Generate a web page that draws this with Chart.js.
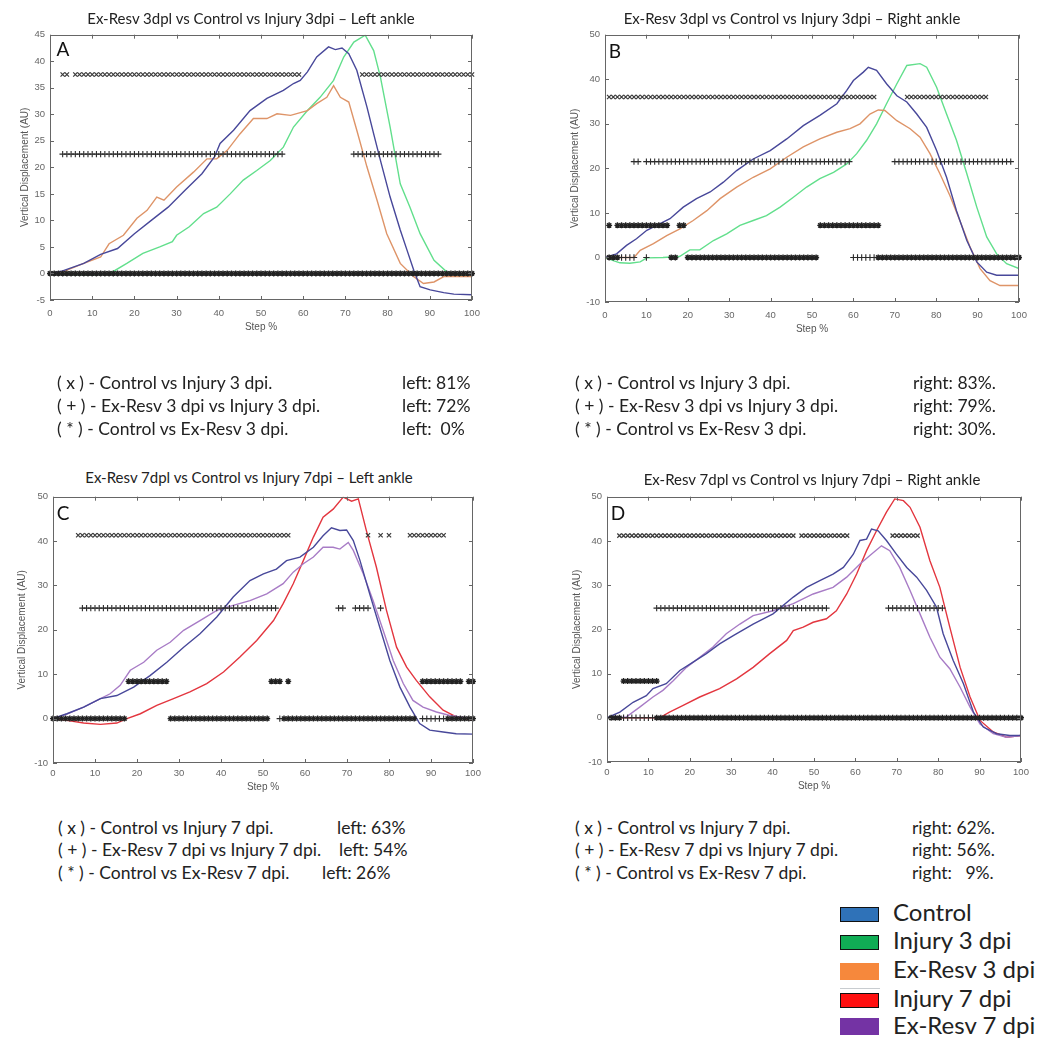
<!DOCTYPE html>
<html><head><meta charset="utf-8">
<script src="https://cdn.jsdelivr.net/npm/chart.js@4.4.1/dist/chart.umd.min.js"></script>
<style>
html,body{margin:0;padding:0;background:#fff}
body{width:1051px;height:1055px;position:relative;overflow:hidden;font-family:Lato,"Open Sans",sans-serif}
canvas{position:absolute}
.t{position:absolute;white-space:pre;color:#222;line-height:1}
.ttl{position:absolute;white-space:pre;color:#222;font-size:15px;line-height:1;transform:translate(-50%,-50%)}
.lbl{position:absolute;font-size:19px;color:#111;line-height:1;transform:translate(-50%,-50%)}
.row{position:absolute;font-size:17.5px;transform:translateY(-50%)}
.lg{position:absolute;font-size:24px;color:#222;line-height:1;transform:translateY(-50%)}
.box{position:absolute;width:39px;height:15px;box-sizing:border-box}
</style></head><body>

<canvas id="cA" width="490" height="312" style="left:0;top:24px"></canvas>
<canvas id="cB" width="477" height="314" style="left:560px;top:24px"></canvas>
<canvas id="cC" width="491" height="309" style="left:0;top:486px"></canvas>
<canvas id="cD" width="477" height="308" style="left:562px;top:486px"></canvas>

<div class="ttl" style="left:251px;top:18px">Ex-Resv 3dpl vs Control vs Injury 3dpi – Left ankle</div>
<div class="ttl" style="left:792px;top:18px">Ex-Resv 3dpl vs Control vs Injury 3dpi – Right ankle</div>
<div class="ttl" style="left:249px;top:477px">Ex-Resv 7dpl vs Control vs Injury 7dpi – Left ankle</div>
<div class="ttl" style="left:812px;top:479px">Ex-Resv 7dpl vs Control vs Injury 7dpi – Right ankle</div>

<div class="lbl" style="left:63px;top:48px">A</div>
<div class="lbl" style="left:615px;top:50px">B</div>
<div class="lbl" style="left:63px;top:512px">C</div>
<div class="lbl" style="left:618px;top:512px">D</div>

<div class="t row" style="left:57px;top:383px">( x ) - Control vs Injury 3 dpi.</div>
<div class="t row" style="left:57px;top:406px">( + ) - Ex-Resv 3 dpi vs Injury 3 dpi.</div>
<div class="t row" style="left:57px;top:429px">( * ) - Control vs Ex-Resv 3 dpi.</div>
<div class="t row" style="left:402px;top:383px">left: 81%</div>
<div class="t row" style="left:402px;top:406px">left: 72%</div>
<div class="t row" style="left:402px;top:429px">left:  0%</div>

<div class="t row" style="left:575px;top:383px">( x ) - Control vs Injury 3 dpi.</div>
<div class="t row" style="left:575px;top:406px">( + ) - Ex-Resv 3 dpi vs Injury 3 dpi.</div>
<div class="t row" style="left:575px;top:429px">( * ) - Control vs Ex-Resv 3 dpi.</div>
<div class="t row" style="left:913px;top:383px">right: 83%.</div>
<div class="t row" style="left:913px;top:406px">right: 79%.</div>
<div class="t row" style="left:913px;top:429px">right: 30%.</div>

<div class="t row" style="left:58px;top:828px">( x ) - Control vs Injury 7 dpi.</div>
<div class="t row" style="left:58px;top:850px">( + ) - Ex-Resv 7 dpi vs Injury 7 dpi.</div>
<div class="t row" style="left:58px;top:873px">( * ) - Control vs Ex-Resv 7 dpi.</div>
<div class="t row" style="left:337px;top:828px">left: 63%</div>
<div class="t row" style="left:339px;top:850px">left: 54%</div>
<div class="t row" style="left:322px;top:873px">left: 26%</div>

<div class="t row" style="left:575px;top:828px">( x ) - Control vs Injury 7 dpi.</div>
<div class="t row" style="left:575px;top:850px">( + ) - Ex-Resv 7 dpi vs Injury 7 dpi.</div>
<div class="t row" style="left:575px;top:873px">( * ) - Control vs Ex-Resv 7 dpi.</div>
<div class="t row" style="left:912px;top:828px">right: 62%.</div>
<div class="t row" style="left:912px;top:850px">right: 56%.</div>
<div class="t row" style="left:912px;top:873px">right:   9%.</div>

<div class="box" style="left:840px;top:907px;background:#2f72b8;border:1.5px solid #111"></div>
<div class="lg" style="left:893px;top:912px">Control</div>
<div class="box" style="left:840px;top:935px;background:#10ad55;border:1.5px solid #111"></div>
<div class="lg" style="left:893px;top:940px">Injury 3 dpi</div>
<div class="box" style="left:840px;top:963px;height:17px;background:#f6883c"></div>
<div style="position:absolute;left:840px;top:988px;width:40px;height:1px;background:#c8ccd0"></div>
<div class="lg" style="left:893px;top:969px">Ex-Resv 3 dpi</div>
<div class="box" style="left:840px;top:993px;background:#ff1010;border:1.5px solid #111"></div>
<div class="lg" style="left:893px;top:998px">Injury 7 dpi</div>
<div class="box" style="left:840px;top:1018px;height:17px;background:#7433a4"></div>
<div class="lg" style="left:893px;top:1025px">Ex-Resv 7 dpi</div>

<script>
// ---------- DATA ----------
// Panel A (3 dpi, left ankle)
const A_control_step = [0,3,8,12,16,20,24,28,32,36,39,40.3,43.5,47.4,51.4,55.3,57.7,59.3,61,63.2,66,67.6,69.2,70.8,72.7,75.1,76.7,78.3,80.6,83,84.6,86.2,87.7,90.1,93.3,95.7,100];
const A_control_val  = [0,0.5,1.9,3.6,4.7,7.5,10,12.5,15.7,18.8,22,24.5,27,30.7,33,34.5,35.8,36.4,38,40.8,42.7,42.2,42.5,41.4,38.3,31.4,26.3,21.3,14.4,8.2,4.4,0.6,-2.5,-3.1,-3.6,-3.9,-4];
const A_exresv3_step = [0,3,8,12,14,17.4,20.6,23,25.3,27,30,34,37.2,39.5,42,45,48.2,51.4,53.8,57,61,63.2,65.6,67.2,68.8,70.8,72.7,75.1,77.5,79.8,83,86.2,88.5,91,93.3,100];
const A_exresv3_val  = [0,0.3,1.9,3.1,5.6,7.2,10.4,11.9,14.4,13.8,16.3,19.1,21.6,21.6,23.2,26.3,29.2,29.2,30.1,29.8,30.7,32,33.2,35.4,33.2,32.3,27,20.1,13.8,7.5,1.9,-0.6,-1.9,-1.6,-0.6,-0.6];
const A_injury3_step = [0,5,10,14.2,18.2,22,26,29,30,33,36.4,39.5,42.7,45.8,49,52.2,55.3,57.7,61,64,67.2,69.6,72,74.7,76.7,78.3,80.6,83,85.3,87.7,91,94,97,100];
const A_injury3_val  = [0,-0.2,-0.3,0,1.9,3.8,5,6,7.2,8.8,11.3,12.5,15,17.6,19.4,21.3,23.8,27.6,30.7,33.2,36.4,40.8,43.6,44.9,42,37,27.6,16.9,12.5,7.5,2.5,0.3,-0.3,-0.6];
const A_sigX_steps    = [[3,4],[6,59],[74,100]];
const A_sigPlus_steps = [[3,55],[72,92]];
const A_zeroStar_steps = [[0,100]];
const A_rowLevels = [37.5, 22.5, 0];

// Panel B (3 dpi, right ankle)
const B_control_step = [0,2.8,5.2,7.6,10.1,13.3,15.7,18.9,22.1,25.4,28.6,31.8,35.8,39.9,43.9,47.9,51.9,56,58.4,60,62.4,63.6,65.6,68,70.5,72.9,75.3,77.7,80.1,82.5,84.9,87.4,89.8,92.2,94.6,100];
const B_control_val  = [0,0.8,2.7,4.2,6.1,7.6,8.7,11.3,13.2,14.7,16.9,19.5,22.1,24,26.6,29.6,31.9,34.5,37.5,39.7,41.6,42.7,42,39,36.3,34.9,32.2,29.2,24,18,10.5,3.8,-1,-3.3,-4,-4];
const B_exresv3_step = [0,7,8.5,11.7,14.9,18.1,21.3,24.6,27.8,31.8,35.8,39.9,43.9,47.9,51.9,56,59.2,61.6,64,66,67.6,70.5,73.7,76.1,78.5,80.9,83.3,85.7,88.2,90.6,93,95.4,100];
const B_exresv3_val  = [0,0,1.6,3.1,4.9,6.4,8.3,10.5,13.2,15.8,18,19.9,22.5,24.8,26.6,28.1,28.9,30,32.2,33.1,33,30.7,28.9,27,23.3,18.8,13.9,8.3,2.3,-2.5,-5.2,-6.3,-6.3];
const B_injury3_step = [0,2,3.6,6,8.5,10.1,14,18,20.5,22.9,26.2,29.4,32.6,35.8,39,42.3,45.5,48.7,51.9,55.2,58.4,60.8,63.2,65.6,68,70.5,72.9,76.1,77.7,80.1,82.5,84.9,87.4,89.8,92.2,94.6,97,100];
const B_injury3_val  = [0,-0.7,-1.2,-1.3,-1,-0.1,0,0.2,1.7,1.7,3.8,5.3,7.2,8.3,9.4,11.3,13.5,15.8,17.7,19.1,21,23.3,26.3,30,34.5,39,43.1,43.5,42.7,38.2,32.2,26.3,18.8,11.3,4.6,0.8,-1.4,-2.5];
const B_sigX_steps    = [[1,65],[73,92]];
const B_sigPlus_steps = [[7,8],[10,59],[70,98]];
const B_sigStar_steps = [[1,1],[3,15],[18,19],[52,66]];
const B_zeroStar_steps = [[1,3],[16,17],[20,51],[66,100]];
const B_zeroPlus_steps = [[4,7],[10,10],[60,65]];
const B_rowLevels = [36, 21.5, 7.2, 0];

// Panel C (7 dpi, left ankle)
const C_control_step = [0,3.3,7.3,11.3,15.2,19.2,23.1,27.1,31.1,35,39,42.9,46.9,50.1,53.2,55.6,58.8,62,64.3,66.3,68.3,69.9,71.5,73.1,75.4,77.8,80.2,82.6,85,87.3,89.7,92.9,96,100];
const C_control_val  = [0,1.1,2.6,4.5,5.2,7.1,9.7,12.7,16.1,19.1,22.9,27.4,31.1,32.6,33.7,35.6,36.4,38.6,41.2,43,42.4,42.5,40.1,35.6,28.1,20.6,13.1,7.1,2.6,-1.1,-2.6,-3,-3.4,-3.5];
const C_exresv7_step = [0,3.3,7.3,11.3,13.6,16,18.4,21.6,24.7,27.9,31.1,35,39,42.9,46.9,50.9,54.8,57.2,59.6,62,64.3,66.7,68.3,70.3,71.5,73.9,76.2,78.6,81,83.4,85.7,88.1,91.3,94.5,100];
const C_exresv7_val  = [0,1,2.6,4.5,5.6,7.5,10.9,12.7,15.4,17.2,19.9,22.1,24.4,25.5,26.6,28.1,30.4,33,34.9,36.4,38.6,38.6,38.2,39.7,37.9,32.6,26.6,19.9,13.1,7.9,4.1,2.6,1.5,0.7,0];
const C_injury7_step = [0,3.3,7.3,11.3,15.2,17.6,20.8,24.7,28.7,32.6,36.6,40.6,44.5,48.5,52.5,54.8,57.2,59.6,62,64.3,66.7,69.1,71.1,72.7,74.6,77,79.4,81.8,84.2,86.5,89.7,92.9,96,100];
const C_injury7_val  = [0,-0.4,-1,-1.3,-1,0,1.1,3,4.5,6,7.9,10.5,13.9,17.6,22.1,25.9,30.4,35.6,40.9,45.4,47.2,49.9,49,49.5,42.4,34.1,24.4,16.1,11.6,8.6,4.9,1.9,0.4,-0.4];
const C_sigX_steps    = [[6,56],[75,75],[78,78],[80,80],[85,93]];
const C_sigPlus_steps = [[7,53],[68,69],[72,75],[78,78]];
const C_sigStar_steps = [[18,27],[52,54],[56,56],[88,97],[99,100]];
const C_zeroStar_steps = [[0,17],[28,51],[55,86],[94,100]];
const C_zeroPlus_steps = [[54,54],[88,93]];
const C_rowLevels = [41.3, 24.9, 8.4, 0];

// Panel D (7 dpi, right ankle)
const D_control_step = [0,3.1,6.3,9.5,11.1,14.3,17.6,20.8,24,27.2,30.5,35.3,40.1,45,48.2,51.4,54.6,57.1,59.5,61.1,62.7,63.9,65.5,67.5,69.9,72.4,74.8,77.2,79.6,81.2,83.6,86.1,88.5,90.9,94.1,97.3,100];
const D_control_val  = [0,1.3,3.5,5,6.6,7.7,10.7,12.6,14.5,16.7,18.6,21.2,23.5,27.3,29.5,31,32.5,34,37,40.1,40.4,42.7,42.3,40.1,37,34,31.8,28.8,25,19,13,7.7,1.3,-2.1,-3.6,-4,-4];
const D_exresv7_step = [0,4.7,7.9,11.1,13.5,16,19.2,22.4,25.6,28.8,32.1,35.3,40.1,45,49.8,54.6,57.9,61.1,63.5,66.3,68.3,70.7,73.2,75.6,78,80.4,82.8,85.3,87.7,90.1,93.3,96.5,100];
const D_exresv7_val  = [0,0.2,2.4,4.7,6.2,8.4,11.4,13.7,16,19,21.2,23.1,24.2,25.8,28,29.5,31.8,34.8,36.7,38.9,37.8,34,28.8,23.5,18.2,13.7,11.1,6.9,2.4,-1.4,-3.6,-4.4,-4];
const D_injury7_step = [0,12.7,15.1,18.4,22.4,27.2,31.3,35.3,39.3,43.4,45,47.4,49.8,53,55.4,57.9,60.3,62.7,65.1,67.5,69.5,71.6,73.2,75.6,78,80.4,82.8,85.3,87.7,90.1,93.3,96.5,100];
const D_injury7_val  = [0,0,1.3,2.8,4.7,6.6,8.8,11.4,14.5,17.5,19.7,20.5,21.6,22.4,24.2,28,32.5,37.8,42.3,46.5,49.5,49.1,47.6,43.1,35.5,29.5,20.5,11.4,4.7,-0.6,-3.2,-4.4,-4];
const D_sigX_steps    = [[3,45],[47,58],[69,75]];
const D_sigPlus_steps = [[12,53],[68,81]];
const D_sigStar_steps = [[4,12]];
const D_zeroStar_steps = [[1,3],[12,100]];
const D_zeroPlus_steps = [[4,11]];
const D_rowLevels = [41.2, 24.8, 8.3, 0];

const xTickLabelsStep = 10;

// ---------- STYLE ----------
const COL = {control:'#48489a', injury3:'#62df8c', exresv3:'#de9468', injury7:'#e3363f', exresv7:'#a87cc6'};
const MARK = {x:{style:'crossRot', r:3, w:1.2, c:'#3a3a3a'}, plus:{style:'cross', r:3.2, w:1.1, c:'#2b2b2b'}, star:{style:'star', r:3, w:1.4, c:'#222'}};

function pts(xs, ys){ return xs.map((x,i)=>({x:x, y:ys[i]})); }
function rowPts(ranges, level){ const p=[]; for(const [s,e] of ranges){ for(let i=s;i<=e;i++) p.push({x:i,y:level}); } return p; }

const boxTicks = {
  id:'boxTicks',
  afterDraw(chart){
    const {ctx, chartArea:a, scales:{x,y}} = chart;
    ctx.save();
    ctx.strokeStyle = '#666'; ctx.lineWidth = 1;
    ctx.strokeRect(Math.round(a.left)+0.5, Math.round(a.top)+0.5, Math.round(a.right-a.left)-1, Math.round(a.bottom-a.top)-1);
    ctx.beginPath();
    x.ticks.forEach(t=>{ const p=Math.round(x.getPixelForValue(t.value))+0.5; ctx.moveTo(p,a.bottom); ctx.lineTo(p,a.bottom-4); ctx.moveTo(p,a.top); ctx.lineTo(p,a.top+4); });
    y.ticks.forEach(t=>{ const p=Math.round(y.getPixelForValue(t.value))+0.5; ctx.moveTo(a.left,p); ctx.lineTo(a.left+4,p); ctx.moveTo(a.right,p); ctx.lineTo(a.right-4,p); });
    ctx.stroke();
    ctx.restore();
  }
};

function build(id, g, yMin, yMax, yStep, lines, marks){
  const ds = [];
  marks.forEach(m=>{
    const s = MARK[m.kind];
    ds.push({data:rowPts(m.ranges, m.level), showLine:false, pointStyle:s.style, pointRadius:s.r, pointBorderWidth:s.w,
      borderColor:s.c, backgroundColor:s.c, pointBorderColor:s.c, order:0, clip:false});
  });
  lines.forEach(l=>{
    ds.push({data:pts(l.x, l.y), showLine:true, pointRadius:0, borderColor:l.c, borderWidth:1.4, tension:0, order:1, fill:false});
  });
  const tickFont = {family:'"Liberation Sans", Arial, sans-serif', size:9.5};
  new Chart(document.getElementById(id), {
    type:'scatter',
    data:{datasets:ds},
    options:{
      responsive:false, animation:false, devicePixelRatio:1,
      layout:{padding:g.pad},
      plugins:{legend:{display:false}, tooltip:{enabled:false}, title:{display:false}},
      scales:{
        x:{type:'linear', min:0, max:100,
          ticks:{stepSize:xTickLabelsStep, padding:g.xPad, font:tickFont, color:'#666', maxRotation:0},
          grid:{display:false, drawTicks:false}, border:{display:false},
          title:{display:true, text:'Step %', color:'#555', font:{family:'"Liberation Sans", Arial, sans-serif', size:10}, padding:{top:0, bottom:g.xTitlePad}},
          afterFit(s){ s.height = g.xH; }},
        y:{type:'linear', min:yMin, max:yMax,
          ticks:{stepSize:yStep, padding:g.yPad, font:tickFont, color:'#666'},
          grid:{display:false, drawTicks:false}, border:{display:false},
          title:{display:true, text:'Vertical Displacement (AU)', color:'#555', font:{family:'"Liberation Sans", Arial, sans-serif', size:10}, padding:{top:g.yTitlePad, bottom:0}},
          afterFit(s){ s.width = g.yW; }}
      }
    },
    plugins:[boxTicks]
  });
}

build('cA', {pad:{left:0,top:10,right:18,bottom:0}, xH:36, yW:50, xPad:8, yPad:5, xTitlePad:3, yTitlePad:19}, -5, 45, 5,
  [{x:A_control_step,y:A_control_val,c:COL.control},{x:A_exresv3_step,y:A_exresv3_val,c:COL.exresv3},{x:A_injury3_step,y:A_injury3_val,c:COL.injury3}],
  [{kind:'x',ranges:A_sigX_steps,level:A_rowLevels[0]},{kind:'plus',ranges:A_sigPlus_steps,level:A_rowLevels[1]},{kind:'star',ranges:A_zeroStar_steps,level:A_rowLevels[2]}]);

build('cB', {pad:{left:0,top:10,right:18,bottom:0}, xH:36, yW:45, xPad:8, yPad:5, xTitlePad:3, yTitlePad:9}, -10, 50, 10,
  [{x:B_control_step,y:B_control_val,c:COL.control},{x:B_exresv3_step,y:B_exresv3_val,c:COL.exresv3},{x:B_injury3_step,y:B_injury3_val,c:COL.injury3}],
  [{kind:'x',ranges:B_sigX_steps,level:B_rowLevels[0]},{kind:'plus',ranges:B_sigPlus_steps,level:B_rowLevels[1]},{kind:'star',ranges:B_sigStar_steps,level:B_rowLevels[2]},
   {kind:'star',ranges:B_zeroStar_steps,level:B_rowLevels[3]},{kind:'plus',ranges:B_zeroPlus_steps,level:B_rowLevels[3]}]);

build('cC', {pad:{left:0,top:10,right:18,bottom:0}, xH:32, yW:53, xPad:5, yPad:5, xTitlePad:1.5, yTitlePad:16}, -10, 50, 10,
  [{x:C_control_step,y:C_control_val,c:COL.control},{x:C_exresv7_step,y:C_exresv7_val,c:COL.exresv7},{x:C_injury7_step,y:C_injury7_val,c:COL.injury7}],
  [{kind:'x',ranges:C_sigX_steps,level:C_rowLevels[0]},{kind:'plus',ranges:C_sigPlus_steps,level:C_rowLevels[1]},{kind:'star',ranges:C_sigStar_steps,level:C_rowLevels[2]},
   {kind:'star',ranges:C_zeroStar_steps,level:C_rowLevels[3]},{kind:'plus',ranges:C_zeroPlus_steps,level:C_rowLevels[3]}]);

build('cD', {pad:{left:0,top:10,right:18,bottom:0}, xH:32, yW:45, xPad:5, yPad:5, xTitlePad:1.5, yTitlePad:9}, -10, 50, 10,
  [{x:D_control_step,y:D_control_val,c:COL.control},{x:D_exresv7_step,y:D_exresv7_val,c:COL.exresv7},{x:D_injury7_step,y:D_injury7_val,c:COL.injury7}],
  [{kind:'x',ranges:D_sigX_steps,level:D_rowLevels[0]},{kind:'plus',ranges:D_sigPlus_steps,level:D_rowLevels[1]},{kind:'star',ranges:D_sigStar_steps,level:D_rowLevels[2]},
   {kind:'star',ranges:D_zeroStar_steps,level:D_rowLevels[3]},{kind:'plus',ranges:D_zeroPlus_steps,level:D_rowLevels[3]}]);
</script>
</body></html>
